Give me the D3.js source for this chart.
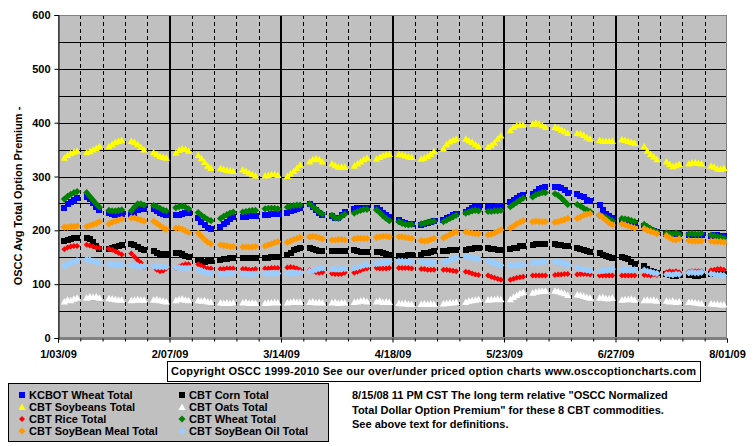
<!DOCTYPE html>
<html lang="en">
<head>
<meta charset="utf-8">
<title>OSCC Avg Total Option Premium</title>
<script src="https://cdn.jsdelivr.net/npm/d3@7"></script>
<style>
  body { margin: 0; background: #fff; }
  svg text { font-family: "Liberation Sans", Arial, sans-serif; font-weight: bold; font-size: 11px; }
</style>
</head>
<body>
<script>
// one value per trading day, Mon..Fri, 30 weeks starting Mon 1/05/09
var kcbotWheat = [
  242,248,253,257,260, 262,258,250,244,238, 233,230,229,230,231, 229,233,237,240,240,
  240,236,233,230,229, 228,229,231,233,232, 222,216,210,205,203, 206,211,216,221,224,
  225,225,226,226,227, 228,229,230,231,231, 233,235,238,240,242, 248,243,238,233,229,
  227,223,222,229,234, 239,241,242,242,241, 242,238,233,229,225, 220,216,213,212,212,
  209,211,213,215,217, 219,222,225,228,231, 234,238,242,244,244, 243,244,244,245,245,
  252,256,260,263,266, 268,272,276,279,281, 281,281,279,275,269, 267,264,261,257,254,
  247,238,230,226,222, 218,217,216,215,214, 208,204,201,198,197, 193,194,194,194,194,
  191,191,191,191,191, 190,191,191,190,190
];
var corn = [
  180,182,184,185,185, 185,183,178,171,166, 166,167,169,171,172, 174,172,169,166,164,
  161,158,156,156,156, 157,157,156,153,150, 144,143,142,143,143, 144,146,147,148,149,
  149,149,149,149,149, 149,149,150,150,151, 154,158,163,166,167, 168,166,164,162,161,
  161,161,161,161,161, 163,161,160,160,160, 160,159,158,156,155, 152,153,153,154,154,
  155,157,158,160,161, 161,162,163,163,163, 164,165,166,167,167, 167,166,165,164,164,
  166,167,168,170,171, 173,174,174,174,174, 174,173,172,171,170, 167,165,163,161,160,
  157,155,152,150,149, 150,149,146,142,138, 133,128,124,122,121, 118,117,116,116,117,
  117,117,116,116,117, 118,119,119,119,118
];
var soybeans = [
  335,340,343,346,348, 345,347,350,353,356, 356,360,364,366,368, 366,364,360,355,350,
  345,342,338,336,335, 344,349,352,351,348, 340,334,327,320,316, 316,314,312,311,310,
  313,310,307,304,302, 302,303,304,304,303, 301,305,310,316,322, 328,332,334,332,328,
  324,321,318,318,318, 320,324,328,332,335, 333,336,339,341,342, 342,341,339,337,336,
  333,335,338,342,347, 352,360,365,368,370, 370,367,364,360,356, 355,358,363,370,376,
  386,392,395,396,396, 398,400,398,395,392, 392,390,387,384,381, 381,380,377,373,370,
  368,366,366,366,366, 369,368,366,364,362, 356,348,342,337,332, 328,323,319,321,323,
  324,326,326,325,324, 320,318,315,314,316
];
var oats = [
  68,71,70,73,75, 75,77,76,77,75, 74,73,72,71,71, 70,71,72,71,71,
  71,72,70,69,68, 70,72,73,71,70, 70,69,70,68,67, 66,65,66,65,66,
  66,67,65,66,65, 65,66,66,67,66, 66,67,68,67,67, 67,68,66,67,66,
  66,67,65,66,66, 67,68,69,70,68, 68,69,67,68,67, 65,64,65,63,63,
  63,64,63,64,63, 64,65,66,66,67, 67,69,70,71,72, 71,72,72,73,72,
  72,76,80,83,85, 84,86,87,88,88, 88,87,85,83,80, 81,80,78,76,75,
  75,76,74,74,75, 71,72,72,73,71, 70,71,70,71,69, 69,68,69,67,68,
  67,67,66,65,64, 64,63,63,62,62
];
var rice = [
  165,168,170,171,171, 173,172,170,168,167, 166,164,161,158,155, 157,151,145,140,132,
  133,127,124,125,129, 130,133,135,137,137, 137,134,131,129,129, 128,128,129,129,129,
  128,128,127,127,128, 129,129,130,130,130, 131,132,131,129,127, 126,124,122,121,122,
  120,119,119,119,121, 121,123,126,128,129, 130,129,129,129,130, 130,130,130,130,129,
  128,128,127,127,127, 127,127,126,125,124, 123,122,120,118,117, 116,114,112,110,108,
  108,110,112,113,114, 116,116,116,116,116, 117,118,118,119,119, 118,119,119,119,118,
  116,116,116,116,116, 116,116,116,116,116, 117,117,116,118,117, 122,124,123,124,122,
  123,124,124,124,124, 126,127,128,128,127
];
var wheat = [
  258,263,267,270,272, 270,263,256,249,243, 237,236,236,237,238, 236,243,249,249,247,
  246,244,241,238,236, 242,244,245,243,240, 233,228,224,220,218, 222,226,229,232,234,
  234,235,236,237,237, 240,241,241,241,240, 243,245,246,247,247, 249,244,239,234,230,
  228,223,222,226,230, 232,235,237,239,239, 238,233,227,222,218, 216,213,211,210,211,
  212,213,215,216,217, 216,219,222,225,228, 232,234,236,237,236, 235,235,236,236,237,
  244,248,252,256,260, 262,266,268,270,270, 268,265,260,254,248, 248,245,241,238,235,
  228,226,224,221,218, 222,221,220,218,216, 211,207,203,200,197, 195,194,193,195,192,
  193,194,193,193,194, 191,190,188,187,186
];
var soyMeal = [
  206,206,207,207,208, 207,209,211,213,216, 212,215,217,219,221, 223,223,221,219,217,
  217,213,209,205,202, 204,204,202,199,196, 195,189,183,178,175, 173,172,171,170,170,
  169,169,169,169,170, 171,173,175,177,179, 178,180,183,185,187, 188,189,188,186,184,
  182,182,183,183,182, 184,185,185,185,185, 187,188,189,189,188, 188,188,187,186,185,
  181,180,181,183,185, 186,189,192,195,197, 197,196,195,194,194, 192,193,195,198,201,
  204,208,212,215,218, 216,217,216,216,216, 215,216,218,220,222, 222,225,228,230,231,
  228,224,219,214,210, 212,210,208,206,204, 203,200,198,196,194, 190,186,183,182,184,
  181,180,180,180,180, 180,179,179,179,178
];
var soyOil = [
  134,137,140,142,144, 146,145,143,141,139, 137,137,136,136,136, 135,135,134,133,133,
  133,132,132,132,132, 131,131,130,130,130, 126,125,123,121,120, 119,119,120,120,120,
  119,119,119,119,119, 120,120,120,120,120, 120,120,121,121,121, 124,125,127,129,130,
  128,128,128,128,129, 130,131,133,135,136, 138,139,140,141,142, 143,143,142,142,142,
  142,141,140,140,140, 141,143,145,147,149, 151,150,149,148,147, 143,141,139,137,135,
  135,135,135,136,136, 139,140,141,142,142, 142,141,140,138,136, 131,129,127,126,125,
  124,125,126,127,128, 127,127,127,127,127, 126,124,123,121,120, 118,118,117,119,118,
  121,122,121,121,122, 119,118,117,117,116
];

var seriesNames = ["KCBOT Wheat Total", "CBT Corn Total", "CBT Soybeans Total", "CBT Oats Total",
                   "CBT Rice Total", "CBT Wheat Total", "CBT SoyBean Meal Total", "CBT SoyBean Oil Total"];
var seriesValues = [kcbotWheat, corn, soybeans, oats, rice, wheat, soyMeal, soyOil];
var seriesColors = ["#0000ff", "#000000", "#ffff00", "#ffffff", "#ff0000", "#008000", "#ff9900", "#99ccff"];
var seriesShapes = ["square", "square", "triangle", "triangle", "smalldiamond", "diamond", "diamond", "diamond"];

var yTicks = [0, 100, 200, 300, 400, 500, 600];
var yTitle = "OSCC Avg Total Option Premium -";
var copyrightText = "Copyright OSCC 1999-2010 See our over/under priced option charts www.osccoptioncharts.com";
var noteLines = [
  "8/15/08 11 PM CST The long term relative \"OSCC Normalized",
  "Total Dollar Option Premium\" for these 8 CBT commodities.",
  "See above text for definitions."
];

// trading days
var day = 864e5;
var start = Date.UTC(2009, 0, 3);
var firstMonday = Date.UTC(2009, 0, 5);
var dates = [];
for (var w = 0; w < 30; w++) {
  for (var d = 0; d < 5; d++) dates.push(new Date(firstMonday + (w * 7 + d) * day));
}

var width = 755, height = 446;
var svg = d3.select("body").append("svg")
  .attr("width", width)
  .attr("height", height);

var x = d3.scaleUtc()
  .domain([new Date(start), new Date(Date.UTC(2009, 7, 1))])
  .range([58, 727]);
var y = d3.scaleLinear().domain([0, 600]).range([338, 15]);

var majorTicks = d3.range(7).map(function(i) { return new Date(start + i * 35 * day); });
var minorTicks = d3.range(31).map(function(i) { return new Date(start + i * 7 * day); })
  .filter(function(t, i) { return i % 5 !== 0; });

// plot area
svg.append("rect")
  .attr("x", 58).attr("y", 15)
  .attr("width", 669).attr("height", 323)
  .attr("fill", "#c0c0c0");

// horizontal grid every 50
svg.append("g").selectAll("line")
  .data(d3.range(50, 600, 50))
  .enter().append("line")
  .attr("x1", 58).attr("x2", 727)
  .attr("y1", function(d) { return Math.round(y(d)) + 0.5; })
  .attr("y2", function(d) { return Math.round(y(d)) + 0.5; })
  .attr("stroke", "#000").attr("stroke-width", 1);

// weekly dashed grid
svg.append("g").selectAll("line")
  .data(minorTicks)
  .enter().append("line")
  .attr("x1", function(d) { return Math.round(x(d)) + 0.5; })
  .attr("x2", function(d) { return Math.round(x(d)) + 0.5; })
  .attr("y1", 15).attr("y2", 338)
  .attr("stroke", "#000").attr("stroke-width", 1)
  .attr("stroke-dasharray", "4,3");

// thick grid at major dates
svg.append("g").selectAll("line")
  .data(majorTicks.slice(1, 6))
  .enter().append("line")
  .attr("x1", function(d) { return Math.round(x(d)); })
  .attr("x2", function(d) { return Math.round(x(d)); })
  .attr("y1", 15).attr("y2", 338)
  .attr("stroke", "#000").attr("stroke-width", 2);

// plot border
svg.append("rect")
  .attr("x", 58.5).attr("y", 15.5)
  .attr("width", 668).attr("height", 322)
  .attr("fill", "none").attr("stroke", "#808080");

// series markers
function shapePath(s) {
  if (s === "square") return "M-3,-3h6v6h-6Z";
  if (s === "triangle") return "M0,-3.5L3.6,3L-3.6,3Z";
  if (s === "smalldiamond") return "M0,-3L3,0L0,3L-3,0Z";
  return "M0,-3.6L3.6,0L0,3.6L-3.6,0Z";
}

seriesValues.forEach(function(vals, si) {
  svg.append("g")
    .selectAll("path")
    .data(vals)
    .enter().append("path")
    .attr("d", shapePath(seriesShapes[si]))
    .attr("transform", function(v, i) { return "translate(" + x(dates[i]) + "," + y(v) + ")"; })
    .attr("fill", seriesColors[si])
    .attr("shape-rendering", seriesShapes[si] === "square" ? "crispEdges" : null);
});

// y axis
var yAxis = d3.axisLeft(y).tickValues(yTicks).tickSize(4).tickPadding(4);
var gy = svg.append("g").attr("transform", "translate(58.5,0)").call(yAxis);
gy.select(".domain").attr("stroke", "#000");
gy.selectAll("text").attr("font-size", 11).attr("font-family", null).attr("fill", "#000");

// x axis
var xAxis = d3.axisBottom(x).tickValues(majorTicks).tickSize(4).tickPadding(8)
  .tickFormat(d3.utcFormat("%-m/%d/%y"));
var gx = svg.append("g").attr("transform", "translate(0,338.5)").call(xAxis);
gx.select(".domain").attr("stroke", "#000");
gx.selectAll("text").attr("font-size", 11).attr("font-family", null).attr("fill", "#000");

var xMinor = d3.axisBottom(x).tickValues(minorTicks).tickSize(3).tickFormat("");
svg.append("g").attr("transform", "translate(0,338.5)").call(xMinor)
  .select(".domain").remove();

// y title
svg.append("text")
  .attr("transform", "translate(22,196) rotate(-90)")
  .attr("text-anchor", "middle")
  .text(yTitle);

// copyright box
svg.append("rect")
  .attr("x", 167.5).attr("y", 361.5)
  .attr("width", 533).attr("height", 20)
  .attr("fill", "#fff").attr("stroke", "#000");
svg.append("text")
  .attr("x", 171).attr("y", 375)
  .attr("textLength", 525)
  .attr("lengthAdjust", "spacing")
  .text(copyrightText);

// legend
svg.append("rect")
  .attr("x", 8.5).attr("y", 383.5)
  .attr("width", 320).attr("height", 58)
  .attr("fill", "#c0c0c0").attr("stroke", "#000");

var legend = svg.append("g").selectAll("g")
  .data(seriesNames)
  .enter().append("g")
  .attr("transform", function(d, i) {
    return "translate(" + (i % 2 === 0 ? 22 : 182) + "," + (395 + Math.floor(i / 2) * 12) + ")";
  });
legend.append("path")
  .attr("d", function(d, i) { return shapePath(seriesShapes[i]); })
  .attr("fill", function(d, i) { return seriesColors[i]; });
legend.append("text")
  .attr("x", 7).attr("y", 4)
  .text(function(d) { return d; });

// note text
svg.append("g").selectAll("text")
  .data(noteLines)
  .enter().append("text")
  .attr("x", 352)
  .attr("y", function(d, i) { return 399 + i * 14.5; })
  .text(function(d) { return d; });
</script>
</body>
</html>
